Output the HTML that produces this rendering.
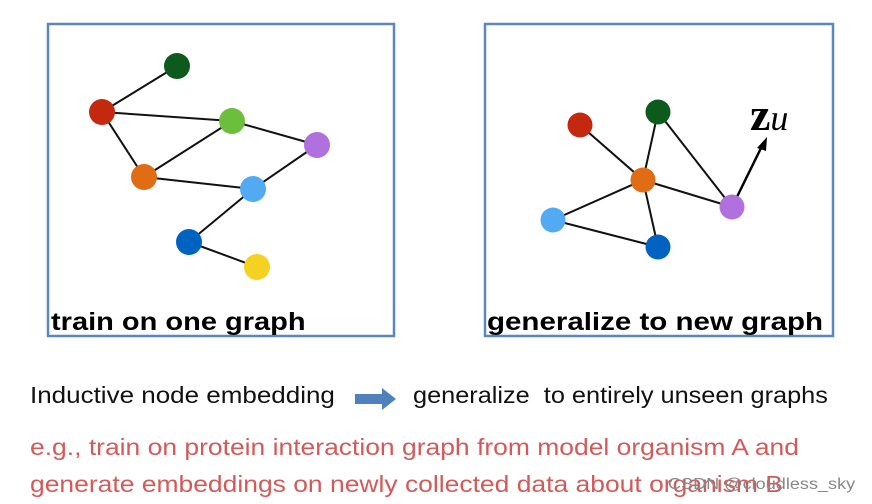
<!DOCTYPE html>
<html><head><meta charset="utf-8"><style>
body{margin:0;width:872px;height:504px;background:#fff;overflow:hidden;position:relative;font-family:"Liberation Sans",Arial,sans-serif}
.t{position:absolute;white-space:nowrap;transform-origin:0 50%}
</style></head><body>
<svg width="872" height="504" style="position:absolute;left:0;top:0">
<rect x="48" y="24" width="346" height="312" fill="none" stroke="#5b86c0" stroke-width="2.5"/>
<rect x="485" y="24" width="348" height="312" fill="none" stroke="#5b86c0" stroke-width="2.5"/>
<g stroke="#111" stroke-width="2">
<line x1="177" y1="66" x2="102" y2="112"/><line x1="102" y1="112" x2="232" y2="121"/>
<line x1="102" y1="112" x2="144" y2="177"/><line x1="232" y1="121" x2="144" y2="177"/>
<line x1="232" y1="121" x2="317" y2="145"/><line x1="144" y1="177" x2="253" y2="189"/>
<line x1="317" y1="145" x2="253" y2="189"/><line x1="253" y1="189" x2="189" y2="242"/>
<line x1="189" y1="242" x2="257" y2="267"/>
<line x1="580" y1="125" x2="643" y2="180"/><line x1="658" y1="112" x2="643" y2="180"/>
<line x1="658" y1="112" x2="732" y2="207"/><line x1="643" y1="180" x2="732" y2="207"/>
<line x1="643" y1="180" x2="553" y2="220"/><line x1="643" y1="180" x2="658" y2="247"/>
<line x1="553" y1="220" x2="658" y2="247"/>
</g>
<line x1="732" y1="207" x2="762" y2="146" stroke="#000" stroke-width="2.5"/>
<polygon points="767,137 757,148 766,151" fill="#000"/>
<g>
<circle cx="177" cy="66" r="13" fill="#0d5a1d"/><circle cx="102" cy="112" r="13" fill="#c4290f"/>
<circle cx="232" cy="121" r="13" fill="#6cbf3d"/><circle cx="317" cy="145" r="13" fill="#b070de"/>
<circle cx="144" cy="177" r="13" fill="#e06c14"/><circle cx="253" cy="189" r="13" fill="#52aaf3"/>
<circle cx="189" cy="242" r="13" fill="#0063c2"/><circle cx="257" cy="267" r="13" fill="#f5d121"/>
<circle cx="580" cy="125" r="12.5" fill="#c4290f"/><circle cx="658" cy="112" r="12.5" fill="#0d5a1d"/>
<circle cx="643" cy="180" r="12.5" fill="#e06c14"/><circle cx="553" cy="220" r="12.5" fill="#52aaf3"/>
<circle cx="658" cy="247" r="12.5" fill="#0063c2"/><circle cx="732" cy="207" r="12.5" fill="#b070de"/>
</g>
<polygon points="355,394 382,394 382,388 396,399 382,410 382,404 355,404" fill="#4f81bd"/>
</svg>
<div class="t" style="left:750px;top:88px;font-family:'Liberation Serif',serif;font-size:46px;font-weight:bold">z<span style="font-style:italic;font-weight:normal;font-size:36px">u</span></div>
<div class="t" style="left:51px;top:308px;font-size:25px;font-weight:bold;transform:scaleX(1.16)">train on one graph</div>
<div class="t" style="left:487px;top:308px;font-size:25px;font-weight:bold;transform:scaleX(1.18)">generalize to new graph</div>
<div class="t" style="left:30px;top:382px;font-size:23px;color:#111;transform:scaleX(1.13)">Inductive node embedding</div>
<div class="t" style="left:413px;top:382px;font-size:23px;color:#111;transform:scaleX(1.10)">generalize &nbsp;to entirely unseen graphs</div>
<div class="t" style="left:30px;top:434px;font-size:23px;color:#d45a5a;transform:scaleX(1.15)">e.g., train on protein interaction graph from model organism A and</div>
<div class="t" style="left:30px;top:471px;font-size:23px;color:#d45a5a;transform:scaleX(1.15)">generate embeddings on newly collected data about organism B</div>
<div class="t" style="left:668px;top:476px;font-size:16px;color:#888;transform:scaleX(1.13)">CSDN @cloudless_sky</div>
</body></html>
